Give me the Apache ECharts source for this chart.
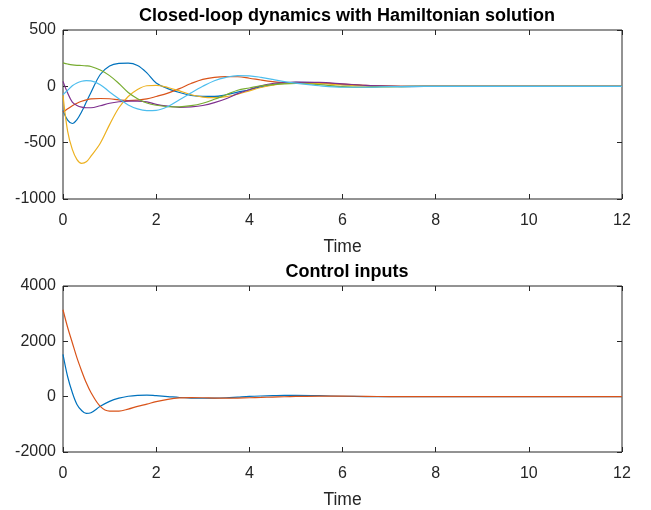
<!DOCTYPE html>
<html>
<head>
<meta charset="utf-8">
<script src="https://cdn.jsdelivr.net/npm/echarts@6/dist/echarts.min.js"></script>
<style>
  html, body { margin: 0; padding: 0; background: #fff; }
  #chart { width: 651px; height: 510px; }
</style>
</head>
<body>
<div id="chart"></div>
<script>
// time samples (s)
const t = [0, 0.1, 0.2, 0.3, 0.4, 0.5, 0.6, 0.8, 1.0, 1.2, 1.4, 1.6, 1.8, 2.0, 2.25, 2.5, 2.75,
           3.0, 3.25, 3.5, 3.75, 4.0, 4.25, 4.5, 4.75, 5.0, 5.5, 6.0, 6.5, 7.0, 7.5, 8, 9, 10, 11, 12];

// closed-loop states
const x1 = [-215, -300, -330, -295, -225, -140, -55, 105, 180, 203, 206, 185, 120, 30, -20, -55, -80,
            -90, -90, -75, -52, -30, -5, 15, 30, 35, 32, 15, 5, 0, -2, 0, 0, 0, 0, 0];
const x2 = [-229, -200, -172, -150, -132, -120, -112, -108, -110, -120, -126, -122, -112, -90, -60, -20, 25,
            62, 80, 86, 85, 72, 56, 42, 32, 28, 28, 20, 8, 2, 0, 0, 0, 0, 0, 0];
const x3 = [-80, -400, -560, -650, -683, -670, -620, -505, -340, -190, -90, -28, 5, 8, -10, -40, -75,
            -95, -100, -92, -70, -40, -10, 10, 25, 28, 25, 12, 3, 0, 0, 0, 0, 0, 0, 0];
const x4 = [44, -60, -140, -170, -185, -190, -190, -172, -150, -137, -132, -132, -138, -160, -176, -186, -182,
            -170, -145, -110, -65, -30, 5, 25, 33, 37, 35, 22, 8, 2, 0, 0, 0, 0, 0, 0];
const x5 = [208, 198, 190, 186, 185, 182, 176, 145, 95, 25, -55, -110, -148, -168, -180, -182, -172,
            -150, -115, -75, -35, -15, 5, 15, 22, 25, 15, -3, -8, -4, 0, 0, 0, 0, 0, 0];
const x6 = [-74, -35, 5, 30, 45, 50, 48, 15, -50, -110, -165, -200, -215, -213, -180, -120, -58,
            0, 50, 80, 95, 93, 80, 62, 42, 28, 5, -8, -8, -3, 0, 0, 0, 0, 0, 0];

// control inputs
const u1 = [1530, 720, 150, -280, -500, -605, -580, -350, -170, -55, 15, 50, 58, 35, 5, -30, -50,
            -58, -55, -40, -15, 10, 25, 35, 45, 45, 35, 15, 5, 0, 0, 0, 0, 0, 0, 0];
const u2 = [3141, 2500, 1950, 1400, 930, 500, 150, -350, -520, -520, -450, -350, -270, -180, -95, -45, -35,
            -40, -50, -55, -50, -40, -28, -15, -3, 8, 20, 20, 10, 3, 0, 0, 0, 0, 0, 0];

const stateSeries = [x1, x2, x3, x4, x5, x6];
const inputSeries = [u1, u2];
const colors = ['#0072BD', '#D95319', '#EDB120', '#7E2F8E', '#77AC30', '#4DBEEE'];

const axisColor = '#262626';
const font = 'Liberation Sans, Arial, Helvetica, sans-serif';

function pairs(ys) {
  return t.map((v, i) => [v, ys[i]]);
}

function plain(v) {
  return String(v);
}

function xAxes(gridIndex) {
  return [
    {
      type: 'value', gridIndex: gridIndex, min: 0, max: 12, interval: 2, position: 'bottom',
      name: 'Time', nameLocation: 'middle', nameGap: 39,
      nameTextStyle: { color: axisColor, fontSize: 17.5, fontFamily: font },
      axisLine: { show: false, onZero: false },
      axisTick: { inside: true, length: 5, lineStyle: { color: axisColor } },
      axisLabel: { color: axisColor, fontSize: 16, fontFamily: font, margin: 14, formatter: plain },
      splitLine: { show: false }
    },
    {
      type: 'value', gridIndex: gridIndex, min: 0, max: 12, interval: 2, position: 'top',
      axisLine: { show: false, onZero: false },
      axisTick: { inside: true, length: 5, lineStyle: { color: axisColor } },
      axisLabel: { show: false },
      splitLine: { show: false }
    }
  ];
}

function yAxes(gridIndex, min, max, interval) {
  return [
    {
      type: 'value', gridIndex: gridIndex, min: min, max: max, interval: interval, position: 'left',
      axisLine: { show: false, onZero: false },
      axisTick: { inside: true, length: 5, lineStyle: { color: axisColor } },
      axisLabel: { color: axisColor, fontSize: 16, fontFamily: font, margin: 7, formatter: plain },
      splitLine: { show: false }
    },
    {
      type: 'value', gridIndex: gridIndex, min: min, max: max, interval: interval, position: 'right',
      axisLine: { show: false, onZero: false },
      axisTick: { inside: true, length: 5, lineStyle: { color: axisColor } },
      axisLabel: { show: false },
      splitLine: { show: false }
    }
  ];
}

const series = [];
stateSeries.forEach((ys, i) => {
  series.push({
    type: 'line', xAxisIndex: 0, yAxisIndex: 0, data: pairs(ys),
    smooth: 0.35, showSymbol: false,
    lineStyle: { color: colors[i], width: 1.2 }, z: 3
  });
});
inputSeries.forEach((ys, i) => {
  series.push({
    type: 'line', xAxisIndex: 2, yAxisIndex: 2, data: pairs(ys),
    smooth: 0.35, showSymbol: false,
    lineStyle: { color: colors[i], width: 1.2 }, z: 3
  });
});

const chart = echarts.init(document.getElementById('chart'), null, { renderer: 'canvas' });
chart.setOption({
  animation: false,
  backgroundColor: '#fff',
  title: [
    {
      text: 'Closed-loop dynamics with Hamiltonian solution', left: 342, top: 2, textAlign: 'center',
      textStyle: { color: '#000', fontSize: 18, fontWeight: 'bold', fontFamily: font }
    },
    {
      text: 'Control inputs', left: 342, top: 258, textAlign: 'center',
      textStyle: { color: '#000', fontSize: 18, fontWeight: 'bold', fontFamily: font }
    }
  ],
  grid: [
    { left: 63, right: 29, top: 30, height: 169, show: true, borderColor: axisColor, borderWidth: 1, backgroundColor: 'transparent' },
    { left: 63, right: 29, top: 286, height: 169, show: true, borderColor: axisColor, borderWidth: 1, backgroundColor: 'transparent' }
  ],
  xAxis: [...xAxes(0), ...xAxes(1)],
  yAxis: [...yAxes(0, -1000, 500, 500), ...yAxes(1, -2000, 4000, 2000)],
  series: series
});
</script>
</body>
</html>
